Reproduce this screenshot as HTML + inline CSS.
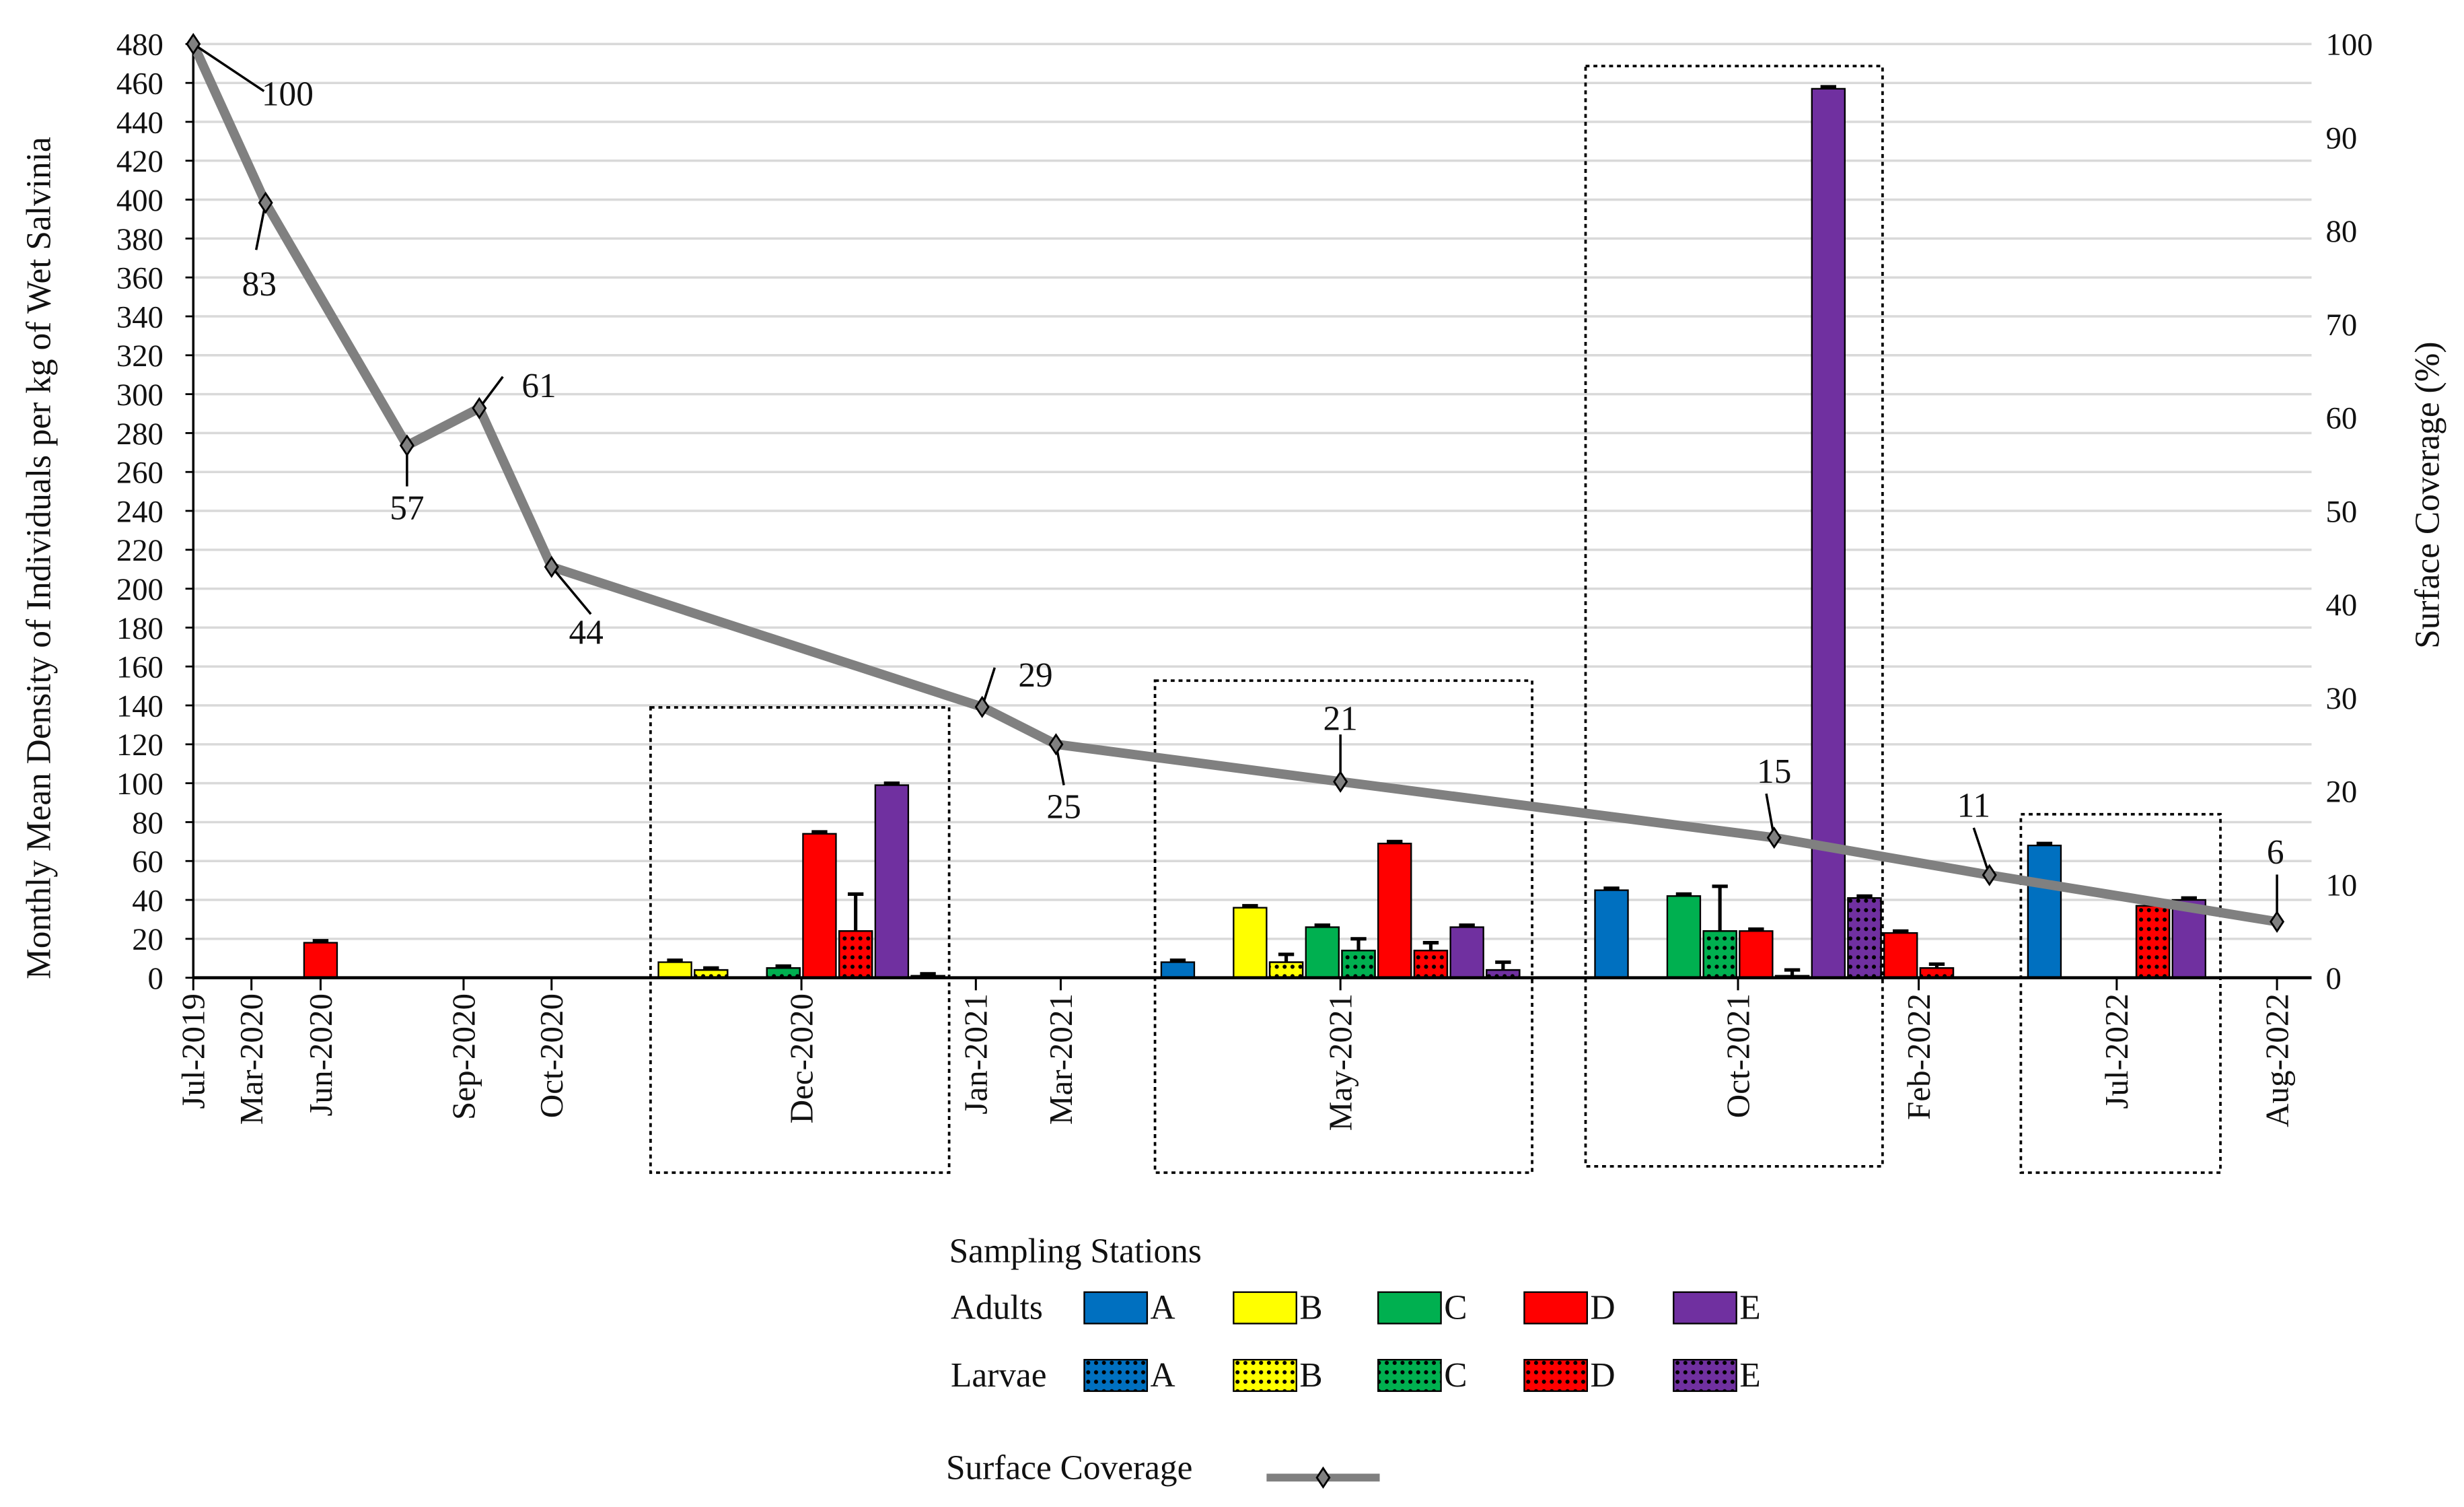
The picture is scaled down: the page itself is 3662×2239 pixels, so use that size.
<!DOCTYPE html>
<html><head><meta charset="utf-8"><style>
html,body{margin:0;padding:0;background:#fff}
svg{display:block}
text{font-family:"Liberation Serif",serif;fill:#111}
</style></head><body>
<svg id="chart" width="3662" height="2239" viewBox="0 0 1568 958.7" xmlns="http://www.w3.org/2000/svg">
<defs>
<pattern id="dots" width="5" height="6" patternUnits="userSpaceOnUse"><circle cx="2.5" cy="3" r="1.3" fill="#000"/></pattern>
</defs>
<g id="grid"></g>
<g id="boxes"></g>
<g id="bars"></g>
<g id="axes"></g>
<g id="line"></g>
<g id="legend"></g>
</svg>
<script>
const categories=["Jul-2019","Mar-2020","Jun-2020","Sep-2020","Oct-2020","Dec-2020","Jan-2021","Mar-2021","May-2021","Oct-2021","Feb-2022","Jul-2022","Aug-2022"];
const categoryX=[123,160,204,295,351,510,621,675,853,1106,1221,1347,1449];
const groupCategory=["Jun-2020","Dec-2020","May-2021","Oct-2021","Feb-2022","Jul-2022"];
const groupSeries=[["D"],["B","Bl","C","Cl","D","Dl","E","El"],["A","Al","B","Bl","C","Cl","D","Dl","E","El"],["A","Al","C","Cl","D","Dl","E","El"],["D","Dl"],["A","Al","D","Dl","E"]];
const groupValues=[[18],[8,4,0,5,74,24,99,1],[8,0,36,8,26,14,69,14,26,4],[45,0,42,24,24,1,457,41],[23,5],[68,0,0,37,40]];
const groupErrors=[[1],[1,1,0,1,1,19,1,1],[1,0,1,4,1,6,1,4,1,4],[1,0,1,23,1,3,1,1],[1,2],[1,0,0,1,1]];
const coverageCats=["Jul-2019","Mar-2020","Sep-2020","Sep-2020b","Oct-2020","Jan-2021","Mar-2021","May-2021","Oct-2021","Feb-2022","Aug-2022"];
const coverageX=[123,169,259,305,351,625,672,853,1129,1266,1449];
const coverageValues=[100,83,57,61,44,29,25,21,15,11,6];
const leftTicks=[0,20,40,60,80,100,120,140,160,180,200,220,240,260,280,300,320,340,360,380,400,420,440,460,480];
const rightTicks=[0,10,20,30,40,50,60,70,80,90,100];

const NS="http://www.w3.org/2000/svg";
const X0=123,X1=1449,Y0=622,Y1=28;
const yL=v=>Y0-(v/480)*(Y0-Y1);
const yR=v=>Y0-(v/100)*(Y0-Y1);
const colors={A:"#0070C0",B:"#FFFF00",C:"#00B050",D:"#FF0000",E:"#7030A0"};
function mk(tag,attrs,parent){const e=document.createElementNS(NS,tag);for(const k in attrs)e.setAttribute(k,attrs[k]);parent.appendChild(e);return e;}
const grid=document.getElementById('grid'),axes=document.getElementById('axes'),barsG=document.getElementById('bars'),lineG=document.getElementById('line'),legend=document.getElementById('legend'),boxes=document.getElementById('boxes');

leftTicks.forEach(t=>{
  if(t>0){const g=mk('line',{x1:X0,x2:X1+22,y1:yL(t),y2:yL(t),stroke:"#d9d9d9","stroke-width":1.5},grid);
  }
  const tx=mk('text',{x:104,y:yL(t)+7,"text-anchor":"end","font-size":20},axes);tx.textContent=t;
  
});
rightTicks.forEach(t=>{
  const tx=mk('text',{x:1480,y:yR(t)+7,"text-anchor":"start","font-size":20},axes);tx.textContent=t;
  
});
let a=mk('line',{x1:X0,x2:X0,y1:Y1,y2:Y0,stroke:"#000","stroke-width":1.5},axes);

a=mk('line',{x1:X0,x2:X1+22,y1:Y0,y2:Y0,stroke:"#000","stroke-width":2},axes);

leftTicks.forEach(t=>{const l=mk('line',{x1:X0-5,x2:X0,y1:yL(t),y2:yL(t),stroke:"#000","stroke-width":1.2},axes);});
categories.forEach((c,i)=>{
  const x=categoryX[i];
  const tk=mk('line',{x1:x,x2:x,y1:Y0,y2:Y0+8,stroke:"#000","stroke-width":1.3},axes);
  
  const tx=mk('text',{x:0,y:0,"text-anchor":"end","font-size":21,transform:`translate(${x+7},632) rotate(-90)`},axes);tx.textContent=c;
  
});
let t=mk('text',{x:0,y:0,"text-anchor":"middle","font-size":22,transform:"translate(32,355) rotate(-90)"},axes);t.textContent="Monthly Mean Density of Individuals per kg of Wet Salvinia";

t=mk('text',{x:0,y:0,"text-anchor":"middle","font-size":22,transform:"translate(1552,315) rotate(-90)"},axes);t.textContent="Surface Coverage (%)";


[[414,450,604,746],[735,433,975,746],[1009,42,1198,742],[1286,518,1413,746]].forEach(b=>{
  const r=mk('rect',{x:b[0],y:b[1],width:b[2]-b[0],height:b[3]-b[1],fill:"none",stroke:"#000","stroke-width":1.6,"stroke-dasharray":"2.5,2.5"},boxes);
  
});

const SLOT=23,BW=21;
groupCategory.forEach((gc,gi)=>{
  const cx=categoryX[categories.indexOf(gc)];
  const n=groupSeries[gi].length;
  groupSeries[gi].forEach((s,si)=>{
    const v=groupValues[gi][si];
    if(v<=0)return;
    const x=cx+(si-(n-1)/2)*SLOT;
    const col=colors[s[0]];
    const y=yL(v);
    const r=mk('rect',{x:x-BW/2,y:y,width:BW,height:Y0-y,fill:col,stroke:"#000","stroke-width":1},barsG);
    
    
    if(s.length>1){const p=mk('rect',{x:x-BW/2,y:y,width:BW,height:Y0-y,fill:"url(#dots)",stroke:"#000","stroke-width":1},barsG);
      }
    const e=groupErrors[gi][si];
    const ye=yL(v+e);
    const el=mk('path',{d:`M${x},${y} V${ye} M${x-5},${ye} H${x+5}`,stroke:"#000","stroke-width":2.2,fill:"none"},barsG);
    
  });
});

const pts=coverageValues.map((v,i)=>[coverageX[i],yR(v)]);
const pl=mk('polyline',{points:pts.map(p=>p.join(',')).join(' '),fill:"none",stroke:"#808080","stroke-width":6,"stroke-linejoin":"round"},lineG);

const lab=[[45,30,60,32],[-6,30,-4,52],[0,26,0,40],[15,-20,38,-14],[25,30,22,42],[8,-25,34,-20],[5,26,5,40],[0,-30,0,-40],[-5,-28,0,-42],[-10,-30,-10,-44],[0,-30,-1,-44]];
pts.forEach((p,i)=>{
  const [x,y]=p,o=lab[i];
  const ld=mk('line',{x1:x,y1:y,x2:x+o[0],y2:y+o[1],stroke:"#000","stroke-width":1.5},lineG);
  
  const d=mk('path',{d:`M${x},${y-6} L${x+4},${y} L${x},${y+6} L${x-4},${y} Z`,fill:"#808080",stroke:"#000","stroke-width":1.2},lineG);
  
  const tx=mk('text',{x:x+o[2],y:y+o[3]+7,"text-anchor":"middle","font-size":22},lineG);tx.textContent=coverageValues[i];
  
});

t=mk('text',{x:604,y:803,"font-size":22},legend);t.textContent="Sampling Stations";
const rowsY=[832,875],rowNames=["Adults","Larvae"],swX=[690,785,877,970,1065],keys=["A","B","C","D","E"];
rowsY.forEach((ry,ri)=>{
  const tx=mk('text',{x:605,y:ry+7,"font-size":22},legend);tx.textContent=rowNames[ri];
  
  keys.forEach((k,ki)=>{
    const r=mk('rect',{x:swX[ki],y:ry-10,width:40,height:20,fill:colors[k],stroke:"#000","stroke-width":1},legend);
    
    if(ri===1){const p=mk('rect',{x:swX[ki],y:ry-10,width:40,height:20,fill:"url(#dots)"},legend);}
    const lt=mk('text',{x:swX[ki]+42,y:ry+7,"font-size":22},legend);lt.textContent=k;
    
  });
});
t=mk('text',{x:602,y:941,"font-size":22},legend);t.textContent="Surface Coverage";
let ll=mk('line',{x1:806,x2:878,y1:940,y2:940,stroke:"#808080","stroke-width":5},legend);
ll=mk('path',{d:"M842,934 L846,940 L842,946 L838,940 Z",fill:"#808080",stroke:"#000","stroke-width":1.2},legend);
</script>
</body></html>
